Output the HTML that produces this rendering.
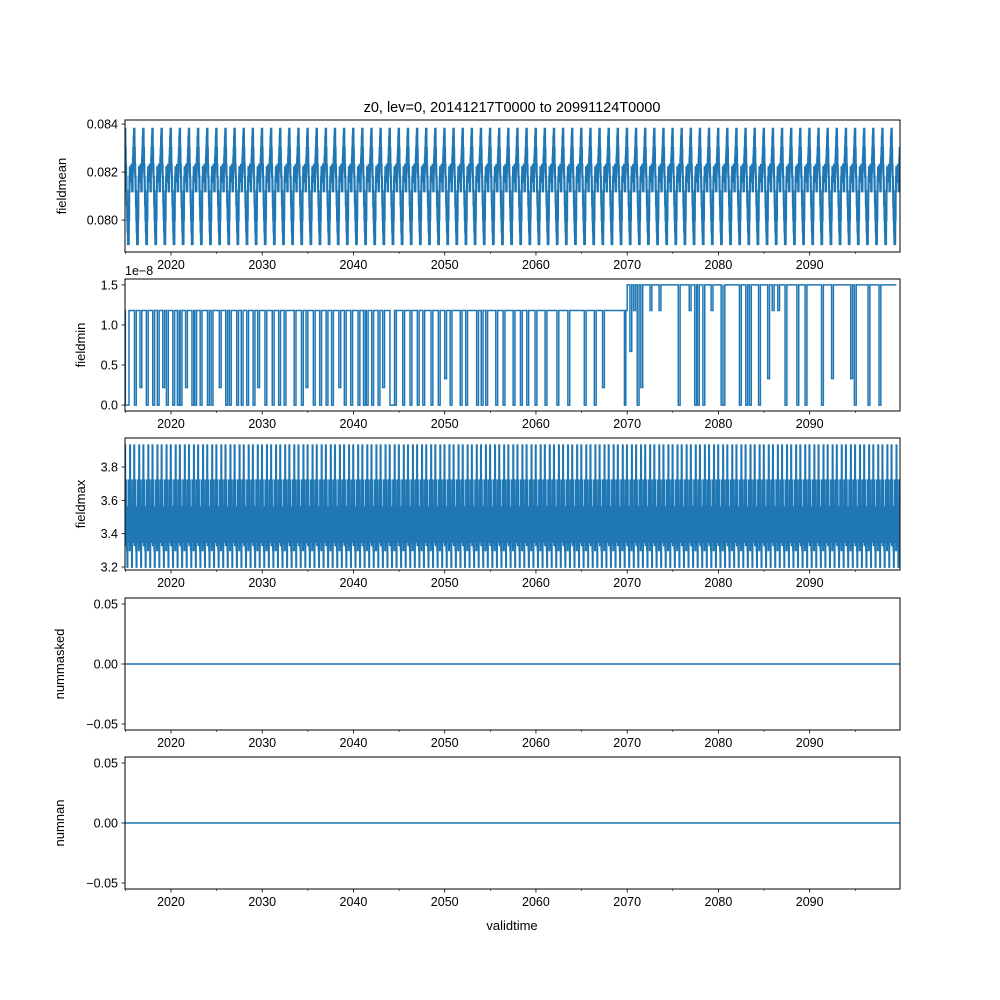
<!DOCTYPE html>
<html><head><meta charset="utf-8"><style>
html,body{margin:0;padding:0;background:#fff}
svg{display:block;font-family:"Liberation Sans","DejaVu Sans",sans-serif}
</style></head><body>
<svg id="fig" width="1000" height="1000" viewBox="0 0 1000 1000">
<text x="512" y="112" text-anchor="middle" font-size="14.5">z0, lev=0, 20141217T0000 to 20991124T0000</text>
<text x="512" y="930" text-anchor="middle" font-size="13">validtime</text>
</svg>
<script>
// ---- data ----
const startYear = 2014.96, endYear = 2099.9;
const xTicks = [2020, 2030, 2040, 2050, 2060, 2070, 2080, 2090];
const xMinorTicks = [2015, 2025, 2035, 2045, 2055, 2065, 2075, 2085, 2095];
// one-year (semi-monthly) seasonal cycle of field mean
const meanCycle = [0.0838,0.0830,0.0823,0.0818,0.0812,0.0806,0.0800,0.0795,0.0790,0.0790,0.0800,0.0812,0.0818,0.0822,0.0818,0.0816,0.0820,0.0823,0.0818,0.0812,0.0820,0.0826,0.0830,0.0835];
// one-year (semi-monthly) cycle of field max
const maxCycle = [3.93,3.33,3.72,3.50,3.56,3.30,3.20,3.56,3.35,3.72,3.45,3.56,3.30,3.93,3.40,3.72,3.56,3.33,3.20,3.50,3.35,3.72,3.56,3.45];
// field min: base levels and dropouts
const minBaseBefore = 1.18, minBaseAfter = 1.5, minSwitchYear = 2070.0;
const dropYears = [2015.0,2016.0,2016.6,2017.3,2018.0,2018.5,2019.1,2019.5,2020.2,2020.7,2021.0,2021.6,2022.3,2022.6,2023.2,2024.0,2024.4,2025.3,2026.0,2026.4,2027.2,2027.7,2028.3,2029.0,2029.5,2030.3,2031.1,2031.8,2032.4,2033.5,2034.3,2034.8,2035.6,2036.3,2037.0,2037.6,2038.4,2039.0,2039.7,2040.5,2041.1,2041.4,2042.0,2042.7,2043.2,2044.0,2044.5,2045.4,2046.2,2047.0,2047.6,2048.5,2049.3,2050.0,2050.6,2051.7,2052.3,2053.5,2054.0,2054.5,2055.6,2056.4,2057.5,2058.3,2059.0,2059.9,2061.0,2062.3,2063.5,2065.3,2066.4,2067.3,2069.7,2070.3,2070.7,2071.1,2071.5,2072.5,2073.5,2075.6,2076.8,2077.4,2077.7,2078.3,2079.2,2080.3,2080.5,2082.3,2083.0,2083.4,2084.4,2085.4,2085.9,2086.5,2087.3,2088.6,2089.5,2091.3,2092.4,2094.5,2094.9,2096.4,2097.6,2099.5];
const dropLevels = [0,0,0.22,0,0,0,0.22,0,0,0,0,0.22,0,0,0,0,0,0.22,0,0,0,0,0,0,0.22,0,0,0,0,0,0,0.22,0,0,0,0,0.22,0,0,0,0,0,0,0,0.22,0,0,0,0,0,0,0,0,0.33,0,0,0,0,0,0,0,0,0,0,0,0,0,0,0,0,0,0.22,0,0.67,1.18,0,0.22,1.18,1.18,0,1.18,0,0,0,1.18,0,0,0,0,0,0,0.33,1.18,1.18,0,0,0,0,0.33,0.33,0,0,0];
const dropWidths = [0.4,0.2,0.2,0.2,0.2,0.2,0.2,0.2,0.2,0.2,0.2,0.2,0.2,0.2,0.2,0.2,0.2,0.2,0.2,0.2,0.2,0.2,0.2,0.2,0.2,0.2,0.2,0.2,0.2,0.2,0.2,0.2,0.2,0.2,0.2,0.2,0.2,0.2,0.2,0.2,0.2,0.2,0.2,0.2,0.2,0.7,0.2,0.2,0.2,0.2,0.2,0.2,0.2,0.2,0.2,0.2,0.2,0.2,0.2,0.2,0.2,0.2,0.2,0.2,0.2,0.2,0.2,0.2,0.2,0.2,0.2,0.2,0.15,0.2,0.2,0.2,0.2,0.2,0.2,0.2,0.2,0.2,0.2,0.2,0.2,0.2,0.2,0.2,0.2,0.2,0.2,0.2,0.2,0.2,0.2,0.2,0.2,0.2,0.2,0.2,0.2,0.2,0.2];
const zeroValue = 0;

const NS = "http://www.w3.org/2000/svg";
const svg = document.getElementById('fig');
const X0 = 125, X1 = 900;
function xs(t){ return X0 + (t - startYear) / (endYear - startYear) * (X1 - X0); }
function el(tag, attrs, parent){ const e = document.createElementNS(NS, tag); for (const k in attrs) e.setAttribute(k, attrs[k]); (parent||svg).appendChild(e); return e; }

const panels = [
 {name:'fieldmean', top:120, bot:252, ymin:0.07867, ymax:0.08417, ticks:[0.080,0.082,0.084], fmt:v=>v.toFixed(3)},
 {name:'fieldmin', top:279, bot:411, ymin:-0.074, ymax:1.574, ticks:[0,0.5,1.0,1.5], fmt:v=>v.toFixed(1)},
 {name:'fieldmax', top:438, bot:570, ymin:3.182, ymax:3.974, ticks:[3.2,3.4,3.6,3.8], fmt:v=>v.toFixed(1)},
 {name:'nummasked', top:598, bot:730, ymin:-0.055, ymax:0.055, ticks:[-0.05,0,0.05], fmt:v=>v.toFixed(2).replace('-','\u2212')},
 {name:'numnan', top:757, bot:889, ymin:-0.055, ymax:0.055, ticks:[-0.05,0,0.05], fmt:v=>v.toFixed(2).replace('-','\u2212')}
];

function series(idx){
  const pts = [];
  const step = 1/24;
  if (idx === 0 || idx === 2) {
    const cyc = idx === 0 ? meanCycle : maxCycle;
    let i = 0;
    for (let t = startYear; t <= endYear; t += step, i++) {
      const v = cyc[i % cyc.length];
      pts.push([t, v]); pts.push([t + step*0.7, v]);
    }
  } else if (idx === 1) {
    const base = t => t < minSwitchYear ? minBaseBefore : minBaseAfter;
    const ev = dropYears.map((y,i)=>[Math.max(y,startYear),dropLevels[i],dropWidths[i]]).sort((a,b)=>a[0]-b[0]);
    let switched = false;
    pts.push([startYear, minBaseBefore]);
    for (const [y,l,w] of ev) {
      if (!switched && y >= minSwitchYear) {
        pts.push([minSwitchYear, minBaseBefore]); pts.push([minSwitchYear, minBaseAfter]); switched = true;
      }
      const b = base(y);
      pts.push([y, b]); pts.push([y, l]); pts.push([y+w, l]); pts.push([y+w, b]);
    }
    pts.push([endYear, minBaseAfter]);
  } else {
    pts.push([startYear, zeroValue]); pts.push([endYear, zeroValue]);
  }
  return pts;
}

panels.forEach((p, idx) => {
  const g = el('g', {});
  
  
  const ys = v => p.bot - (v - p.ymin) / (p.ymax - p.ymin) * (p.bot - p.top);
  const clipId = 'c' + idx;
  const cp = el('clipPath', {id: clipId}, g);
  el('rect', {x:X0, y:p.top, width:X1-X0, height:p.bot-p.top}, cp);
  const pts = series(idx);
  let d = '';
  pts.forEach((q,i)=>{ d += (i?'L':'M') + xs(q[0]).toFixed(2) + ',' + ys(q[1]).toFixed(2); });
  const sw = (idx === 0) ? 2.2 : (idx === 2 ? 1.8 : 1.5);
  const line = el('path', {d, fill:'none', stroke:'#1f77b4', 'stroke-width':sw, 'clip-path':'url(#'+clipId+')', 'stroke-linejoin':'miter'}, g);
  
  
  const frame = el('rect', {x:X0, y:p.top, width:X1-X0, height:p.bot-p.top, fill:'none', stroke:'#000', 'stroke-width':1}, g);
  
  
  p.ticks.forEach(v => {
    const y = ys(v);
    el('line', {x1:X0-3.5, x2:X0, y1:y, y2:y, stroke:'#000', 'stroke-width':0.8}, g);
    const t = el('text', {x:X0-7, y:y+4.5, 'text-anchor':'end', 'font-size':12.5}, g);
    t.textContent = p.fmt(v);
    
    
  });
  xTicks.forEach(v => {
    const x = xs(v);
    el('line', {x1:x, x2:x, y1:p.bot, y2:p.bot+3.5, stroke:'#000', 'stroke-width':0.8}, g);
    const t = el('text', {x:x, y:p.bot+17, 'text-anchor':'middle', 'font-size':12.5}, g);
    t.textContent = v;
    
    
  });
  xMinorTicks.forEach(v => {
    const x = xs(v);
    if (x >= X0-1 && x <= X1+1) el('line', {x1:x, x2:x, y1:p.bot, y2:p.bot+2, stroke:'#000', 'stroke-width':0.6}, g);
  });
  const ylab = el('text', {x:0, y:0, 'text-anchor':'middle', 'font-size':13, transform:'translate(' + (idx===0?66:(idx===3?64:(idx===4?64:85))) + ',' + ((p.top+p.bot)/2) + ') rotate(-90)'}, g);
  ylab.textContent = p.name;
  
  
  if (idx === 1) {
    const off = el('text', {x:X0, y:p.top-4, 'font-size':12.5}, g);
    off.textContent = '1e\u22128';
    
    
  }
});
</script>
</body></html>
